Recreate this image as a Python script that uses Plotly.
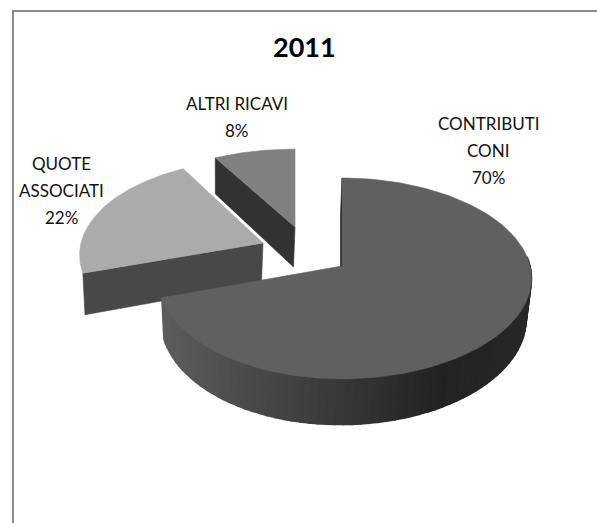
import numpy as np
import plotly.graph_objects as go

# --- data ---
categories = ["CONTRIBUTI CONI", "QUOTE ASSOCIATI", "ALTRI RICAVI"]
label_lines = [["CONTRIBUTI", "CONI"], ["QUOTE", "ASSOCIATI"], ["ALTRI RICAVI"]]
values = [70, 22, 8]
title = "2011"

# --- pixel-space projection of the tilted disc ---
W, H = 597, 523
K = 0.124
RX, RX_SKEW, RY = 185.0, 3.0, 98.9
DEPTH, SHRINK, LOW_DX = 40.0, 0.98, -1.5
geom = [
    dict(ax=342, ay=266, ys=1.0, top="#606060", wall="#2a2a2a"),
    dict(ax=263, ay=243, ys=0.95, top="#ababab", wall="#484848"),
    dict(ax=295, ay=227, ys=0.885, top="#808080", wall="#323232"),
]
label_pos = [(488, 123), (61, 163), (237, 103)]
LINE_STEP = 27

total = sum(values)
edges = np.concatenate([[0], np.cumsum(values)]) / total * 2 * np.pi


def project(theta, r, g, lower=False):
    u, v = np.sin(theta), np.cos(theta)
    p = 1 / (1 + K * v * r)
    dx = r * u * (RX + RX_SKEW * u) * p
    dy = -RY * r * v * p * g["ys"]
    if lower:
        return g["ax"] + dx * SHRINK + LOW_DX, g["ay"] + dy + DEPTH * p
    return g["ax"] + dx, g["ay"] + dy


def poly(xs, ys, color, lw=0.6):
    return go.Scatter(x=xs, y=ys, mode="lines", fill="toself", fillcolor=color,
                      line=dict(color=color, width=lw), hoverinfo="skip", showlegend=False)


def radial_wall(theta, g, color):
    a = project(theta, 1, g)
    b = project(theta, 0, g)
    c = project(theta, 0, g, True)
    d = project(theta, 1, g, True)
    return poly([a[0], b[0], c[0], d[0], a[0]], [a[1], b[1], c[1], d[1], a[1]], color)


def top_face(t0, t1, g):
    th = np.linspace(t0, t1, 160)
    x, y = project(th, 1, g)
    ax, ay = project(0.0, 0, g)
    return poly(np.r_[ax, x, ax], np.r_[ay, y, ay], g["top"])


def wall_gray(x):
    level = np.interp(x, [165, 250, 350, 440, 530], [92, 74, 54, 34, 40])
    c = int(round(level))
    return f"rgb({c},{c},{c})"


fig = go.Figure()

# third slice (farthest back), then second, then the big front slice
g = geom[2]
fig.add_trace(radial_wall(edges[2], g, g["wall"]))
fig.add_trace(top_face(edges[2], edges[3], g))

g = geom[1]
fig.add_trace(radial_wall(edges[1], g, g["wall"]))
fig.add_trace(top_face(edges[1], edges[2], g))

g = geom[0]
fig.add_trace(radial_wall(edges[0], g, "#1e1e1e"))
strip_edges = np.linspace(np.pi * 0.47, edges[1], 70)
for t0, t1 in zip(strip_edges[:-1], strip_edges[1:]):
    th = np.linspace(t0, t1, 4)
    xu, yu = project(th, 1, g)
    xl, yl = project(th, 1, g, True)
    fig.add_trace(poly(np.r_[xu, xl[::-1], xu[0]], np.r_[yu, yl[::-1], yu[0]],
                       wall_gray(xu.mean()), lw=1.6))
fig.add_trace(top_face(edges[0], edges[1], g))

annotations = [dict(x=304, y=46, text=f"<b>{title}</b>", showarrow=False,
                    font=dict(family="Lato", size=27, color="#000000"))]
for lines, val, (lx, ly) in zip(label_lines, values, label_pos):
    for i, line in enumerate(lines + [f"{round(val / total * 100)}%"]):
        annotations.append(dict(x=lx, y=ly + i * LINE_STEP, text=line, showarrow=False,
                                font=dict(family="Lato", size=17, color="#111111")))

fig.update_layout(
    width=W, height=H, margin=dict(l=0, r=0, t=0, b=0),
    paper_bgcolor="white", plot_bgcolor="white", showlegend=False,
    xaxis=dict(range=[0, W], visible=False, fixedrange=True),
    yaxis=dict(range=[H, 0], visible=False, fixedrange=True),
    annotations=annotations,
    shapes=[dict(type="rect", x0=13, y0=11, x1=W + 10, y1=H + 10,
                 line=dict(color="#8c8c8c", width=2), layer="below")],
)
fig.write_html(
    "out.html",
    config={"displayModeBar": False},
    post_script="document.body.style.margin='0';document.documentElement.style.overflow='hidden';",
)
